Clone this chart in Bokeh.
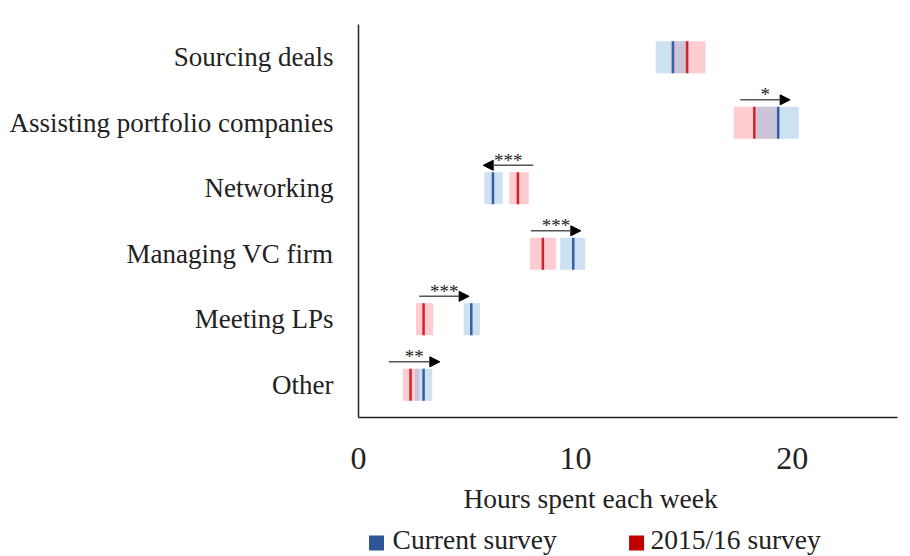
from bokeh.plotting import figure
from bokeh.layouts import column
from bokeh.models import (Range1d, FixedTicker, ColumnDataSource, Arrow, NormalHead, Title)
from bokeh.embed import file_html
from bokeh.resources import INLINE
from bokeh.core.properties import value

# ---- data ----
categories = ["Sourcing deals", "Assisting portfolio companies", "Networking",
              "Managing VC firm", "Meeting LPs", "Other"]
current_mean = [14.5, 19.35, 6.2, 9.9, 5.2, 3.0]
current_lo = [13.7, 18.35, 5.8, 9.3, 4.85, 2.6]
current_hi = [15.2, 20.3, 6.65, 10.45, 5.6, 3.4]
past_mean = [15.15, 18.25, 7.35, 8.5, 3.0, 2.4]
past_lo = [14.4, 17.3, 6.95, 7.9, 2.65, 2.05]
past_hi = [16.0, 19.3, 7.85, 9.1, 3.45, 2.8]

sig_categories = ["Assisting portfolio companies", "Networking", "Managing VC firm",
                  "Meeting LPs", "Other"]
sig_from = [17.6, 8.05, 7.95, 2.8, 1.4]
sig_to = [19.9, 5.75, 10.25, 5.1, 3.75]
sig_stars = ["*", "***", "***", "***", "**"]

x_ticks = [0, 10, 20]
x_label = "Hours spent each week"
legend_labels = ["Current survey", "2015/16 survey"]

FONT = "Liberation Serif"
BLUE_FILL = "#8fbde3"
RED_FILL = "#ff9099"
BLUE_LINE = "#3a5da6"
RED_LINE = "#d42028"
BLUE_KEY = "#2f5597"
RED_KEY = "#c00000"
TXT = "#222222"

X_MAX = 24.85
n = len(categories)
ypos = {c: n - 1 - i for i, c in enumerate(categories)}
ys = [ypos[c] for c in categories]

p = figure(width=902, height=522, output_backend="svg", toolbar_location=None,
           x_range=Range1d(0, X_MAX), y_range=Range1d(-0.5, n - 0.5),
           min_border_left=358, min_border_top=24, min_border_right=5,
           min_border_bottom=104)
p.outline_line_color = None
p.grid.visible = False

H = 0.245
src_c = ColumnDataSource(dict(y=ys, lo=current_lo, hi=current_hi, m=current_mean,
                              y0=[y - H for y in ys], y1=[y + H for y in ys]))
src_p = ColumnDataSource(dict(y=ys, lo=past_lo, hi=past_hi, m=past_mean,
                              y0=[y - H for y in ys], y1=[y + H for y in ys]))

for src, fill in ((src_p, RED_FILL), (src_c, BLUE_FILL)):
    p.hbar(y="y", left="lo", right="hi", height=2 * H, source=src,
           fill_color=fill, fill_alpha=0.45, line_color=None)

for src, col in ((src_p, RED_LINE), (src_c, BLUE_LINE)):
    p.segment(x0="m", x1="m", y0="y0", y1="y1", source=src, line_color=col, line_width=2.5)

# significance arrows
sy = [ypos[c] + 0.35 for c in sig_categories]
arr_src = ColumnDataSource(dict(x0=sig_from, x1=sig_to, y=sy))
p.add_layout(Arrow(x_start="x0", y_start="y", x_end="x1", y_end="y", source=arr_src,
                   line_color="#555555", line_width=1.5,
                   end=NormalHead(size=10, fill_color="black", line_color="black")))
mid = [(a + b) / 2 for a, b in zip(sig_from, sig_to)]
star_src = ColumnDataSource(dict(x=mid, y=sy, t=sig_stars))
p.text(x="x", y="y", text="t", source=star_src, text_align="center",
       text_baseline="alphabetic", y_offset=-5, text_font=value(FONT),
       text_font_size="19px", text_color=TXT)

# axes
p.xaxis.ticker = FixedTicker(ticks=x_ticks)
p.xaxis.major_tick_out = 0
p.xaxis.major_tick_in = 0
p.xaxis.minor_tick_out = 0
p.xaxis.minor_tick_in = 0
p.xaxis.major_label_standoff = 30
p.xaxis.major_label_text_font = FONT
p.xaxis.major_label_text_font_size = "32px"
p.xaxis.major_label_text_color = TXT
p.xaxis.axis_line_color = TXT
p.xaxis.axis_line_width = 1.5

p.yaxis.ticker = FixedTicker(ticks=ys)
p.yaxis.major_label_overrides = {ypos[c]: c for c in categories}
p.yaxis.major_tick_out = 0
p.yaxis.major_tick_in = 0
p.yaxis.minor_tick_out = 0
p.yaxis.minor_tick_in = 0
p.yaxis.major_label_standoff = 25
p.yaxis.major_label_text_font = FONT
p.yaxis.major_label_text_font_size = "27px"
p.yaxis.major_label_text_color = TXT
p.yaxis.axis_line_color = TXT
p.yaxis.axis_line_width = 1.5

# x axis title (placed left of centre, as in the reference)
p.add_layout(Title(text=x_label, align="left", offset=105, standoff=18,
                   text_font=FONT, text_font_size="27.5px", text_font_style="normal",
                   text_color=TXT), "below")

# legend strip (same horizontal scale as the chart)
lg = figure(width=902, height=34, output_backend="svg", toolbar_location=None,
            x_range=Range1d(0, X_MAX), y_range=Range1d(0, 1),
            min_border_left=358, min_border_right=5, min_border_top=0,
            min_border_bottom=0)
lg.axis.visible = False
lg.grid.visible = False
lg.outline_line_color = None
key_src = ColumnDataSource(dict(x=[0.83, 12.82], y=[0.4, 0.4], c=[BLUE_KEY, RED_KEY],
                                t=legend_labels, tx=[1.57, 13.46], ty=[0.5, 0.5]))
lg.scatter(x="x", y="y", source=key_src, marker="square", size=15,
           fill_color="c", line_color=None)
lg.text(x="tx", y="ty", text="t", source=key_src, text_align="left",
        text_baseline="middle", text_font=value(FONT), text_font_size="27.5px",
        text_color=TXT)

open("out.html", "w").write(file_html(column(p, lg, spacing=0), INLINE))
